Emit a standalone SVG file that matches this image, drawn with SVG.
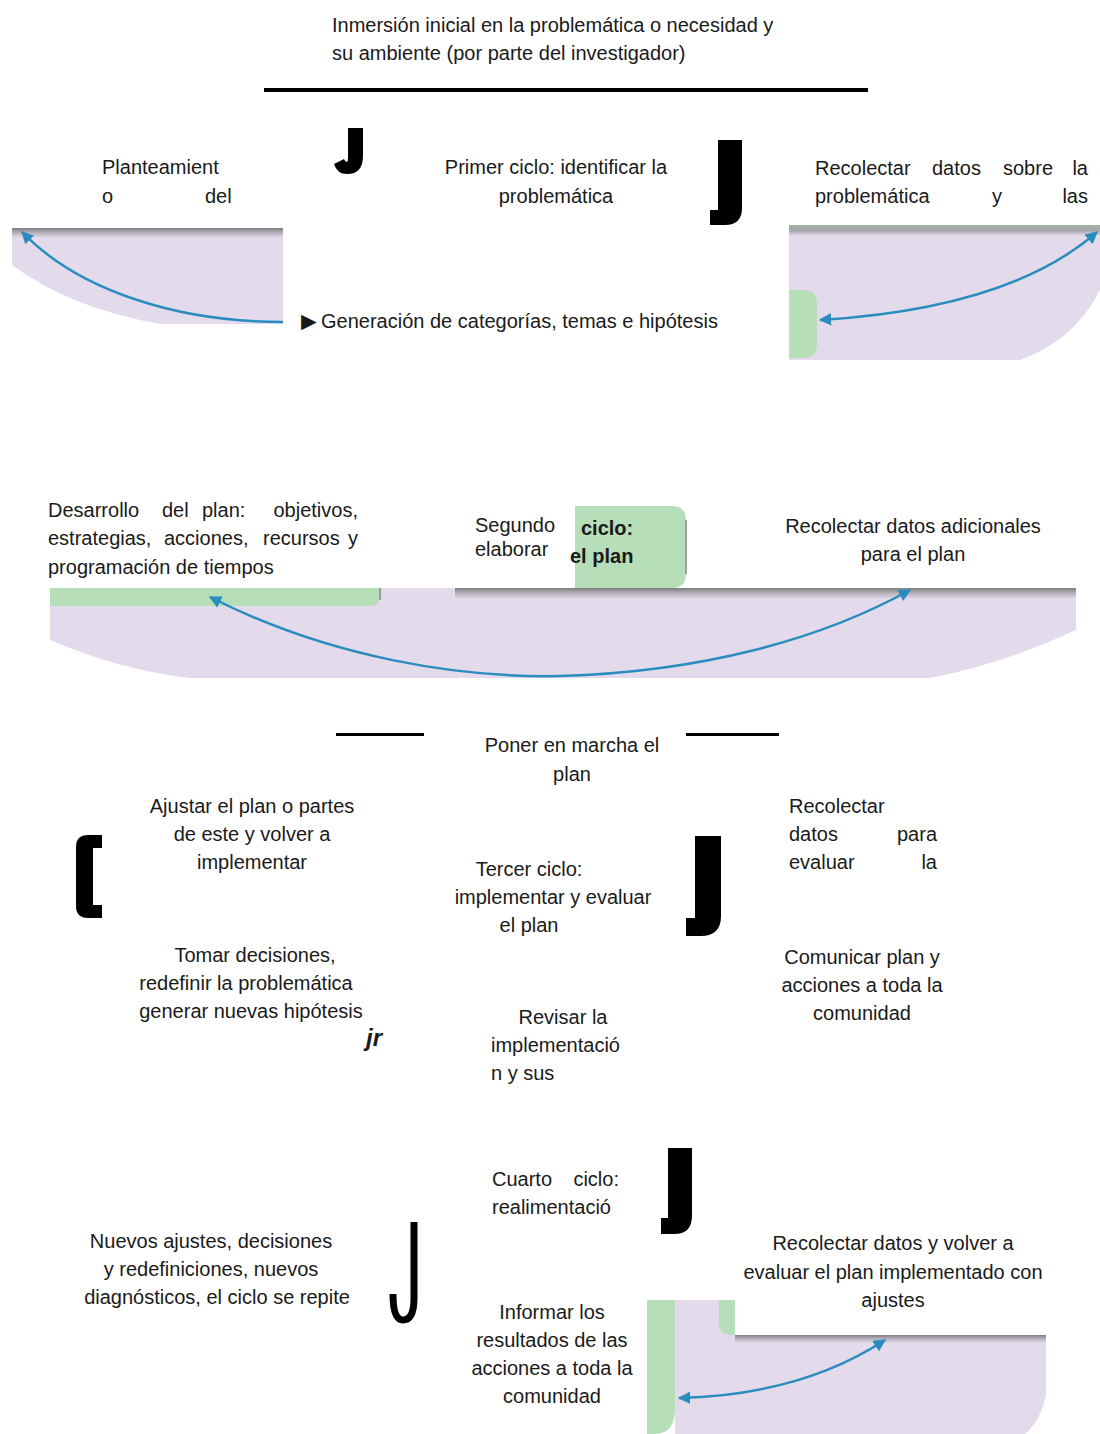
<svg xmlns="http://www.w3.org/2000/svg" width="1100" height="1434" viewBox="0 0 1100 1434">
<defs>
<style>
text{font-family:"Liberation Sans",Arial,sans-serif;font-size:20px;fill:#1a1a1a}
.c{text-anchor:middle}
.e{text-anchor:end}
.b{font-weight:bold}
.lav{fill:#e3dbec}
.grn{fill:#b6dfb9}
.arc{fill:none;stroke:#2b8cbf;stroke-width:2.5}
.br{fill:#000}
</style>
<linearGradient id="shTop" x1="0" y1="0" x2="0" y2="1">
<stop offset="0" stop-color="#7d7d80"/>
<stop offset="0.5" stop-color="#b9b3be"/>
<stop offset="1" stop-color="#e3dbec"/>
</linearGradient>
<linearGradient id="shTopG" x1="0" y1="0" x2="0" y2="1">
<stop offset="0" stop-color="#9fb79f"/>
<stop offset="0.5" stop-color="#a8a5ad"/>
<stop offset="1" stop-color="#e3dbec"/>
</linearGradient>
<marker id="ah" viewBox="0 0 10 10" refX="9" refY="5" markerWidth="5" markerHeight="5" orient="auto-start-reverse" markerUnits="strokeWidth">
<path d="M0,0 L10,5 L0,10 Z" fill="#2b8cbf"/>
</marker>
</defs>

<g id="title">
<text x="332" y="32">Inmersión inicial en la problemática o necesidad y</text>
<text x="332" y="60">su ambiente (por parte del investigador)</text>
<rect x="264" y="88" width="604" height="4" fill="#000"/>
</g>

<g id="panels">
<g id="panel1">
<rect class="lav" x="12" y="228" width="271" height="96"/>
<rect x="12" y="228" width="271" height="10" fill="url(#shTop)"/>
<path d="M12,265 Q70,308 160,324 L12,324 Z" fill="#fff"/>
</g>
<g id="panel2">
<rect class="lav" x="789" y="225" width="311" height="135"/>
<rect x="789" y="225" width="311" height="11" fill="url(#shTopG)"/>
<path d="M789,290 H803 Q817,290 817,304 V344 Q817,358 803,358 H789 Z" class="grn"/>
<path d="M1100,290 Q1075,340 1020,360 L1100,360 Z" fill="#fff"/>
</g>
<g id="panel3">
<rect class="lav" x="50" y="588" width="1026" height="90"/>
<rect x="455" y="588" width="621" height="11" fill="url(#shTop)"/>
<path d="M50,588 H380 V596 Q380,606 370,606 H50 Z" class="grn"/>
<path d="M380,588 V600" stroke="#9a9a9a" stroke-width="2"/>
<path d="M50,640 Q120,670 190,678 L50,678 Z" fill="#fff"/>
<path d="M1076,630 Q1000,665 930,678 L1076,678 Z" fill="#fff"/>
</g>
<g id="panel4">
<rect class="lav" x="675" y="1300" width="371" height="134"/>
<rect x="735" y="1335" width="311" height="8" fill="url(#shTop)"/>
<rect x="735" y="1300" width="311" height="35" fill="#fff"/>
<path d="M719,1300 H735 V1335 H731 Q719,1335 719,1323 Z" class="grn"/>
<path d="M647,1300 H675 V1408 Q675,1434 655,1434 H647 Z" class="grn"/>
<path d="M1046,1395 Q1040,1422 1025,1434 L1046,1434 Z" fill="#fff"/>
</g>
</g>

<g id="connectors">
<path class="arc" d="M283,322 C180,322 80,292 22,232" marker-end="url(#ah)"/>
<path class="arc" d="M820,320 C950,312 1040,282 1097,232" marker-start="url(#ah)" marker-end="url(#ah)"/>
<path class="arc" d="M210,597 C330,658 460,678 560,676 C700,672 820,640 910,590" marker-start="url(#ah)" marker-end="url(#ah)"/>
<path class="arc" d="M679,1398 C760,1396 830,1376 885,1340" marker-start="url(#ah)" marker-end="url(#ah)"/>
<rect x="336" y="733" width="88" height="3" fill="#000"/>
<rect x="686" y="733" width="93" height="3" fill="#000"/>
</g>

<g id="brackets">
<path class="br" d="M348,128 H363 V156 Q363,174 347,174 Q337,174 334,164 L344,159 Q345,162 347,162 Q348,162 348,157 Z"/>
<path class="br" d="M718,140 H742 V208 Q742,225 725,225 H710 V210 H718 Z"/>
<path class="br" d="M88,835 H102 V848 H93 V905 H102 V918 H88 Q76,918 76,906 V847 Q76,835 88,835 Z"/>
<path class="br" d="M695,836 H721 V916 Q721,936 701,936 H686 V918 H695 Z"/>
<path class="br" d="M668,1148 H692 V1216 Q692,1234 674,1234 H661 V1218 H668 Z"/>
<path d="M414,1222 V1298 Q414,1320 403,1320 Q393,1320 393,1294" fill="none" stroke="#000" stroke-width="7"/>
<text x="366" y="1046" style="font-style:italic;font-weight:bold;font-size:24px">jr</text>
</g>

<g id="n-planteamiento">
<text x="102" y="174">Planteamient</text>
<text x="102" y="203">o</text>
<text x="205" y="203">del</text>
</g>
<g id="n-primer">
<text class="c" x="556" y="174">Primer ciclo: identificar la</text>
<text class="c" x="556" y="203">problemática</text>
</g>
<g id="n-recolectar1">
<text x="815" y="175">Recolectar</text>
<text x="932" y="175">datos</text>
<text x="1003" y="175">sobre</text>
<text class="e" x="1088" y="175">la</text>
<text x="815" y="203">problemática</text>
<text x="992" y="203">y</text>
<text class="e" x="1088" y="203">las</text>
</g>
<g id="n-generacion">
<text x="296" y="330" style="font-size:26px">►</text>
<text x="321" y="328">Generación de categorías, temas e hipótesis</text>
</g>

<g id="n-desarrollo">
<text x="48" y="517">Desarrollo</text>
<text x="162" y="517">del</text>
<text x="202" y="517">plan:</text>
<text class="e" x="358" y="517">objetivos,</text>
<text x="48" y="545">estrategias,</text>
<text x="164" y="545">acciones,</text>
<text x="263" y="545">recursos</text>
<text class="e" x="358" y="545">y</text>
<text x="48" y="574">programación de tiempos</text>
</g>
<g id="n-segundo">
<path d="M575,506 H672 Q686,506 686,520 V574 Q686,588 672,588 H575 Z" class="grn"/>
<path d="M686,520 V574" stroke="#9aa39a" stroke-width="2"/>
<text x="475" y="532">Segundo</text>
<text x="475" y="556">elaborar</text>
<text class="b" x="581" y="535">ciclo:</text>
<text class="b" x="570" y="563">el plan</text>
</g>
<g id="n-recolectar2">
<text class="c" x="913" y="533">Recolectar datos adicionales</text>
<text class="c" x="913" y="561">para el plan</text>
</g>

<g id="n-poner">
<text class="c" x="572" y="752">Poner en marcha el</text>
<text class="c" x="572" y="781">plan</text>
</g>
<g id="n-ajustar">
<text class="c" x="252" y="813">Ajustar el plan o partes</text>
<text class="c" x="252" y="841">de este y volver a</text>
<text class="c" x="252" y="869">implementar</text>
</g>
<g id="n-tercer">
<text class="c" x="529" y="876">Tercer ciclo:</text>
<text class="c" x="553" y="904">implementar y evaluar</text>
<text class="c" x="529" y="932">el plan</text>
</g>
<g id="n-recolectar3">
<text x="789" y="813">Recolectar</text>
<text x="789" y="841">datos</text>
<text class="e" x="937" y="841">para</text>
<text x="789" y="869">evaluar</text>
<text class="e" x="937" y="869">la</text>
</g>
<g id="n-tomar">
<text class="c" x="255" y="962">Tomar decisiones,</text>
<text class="c" x="246" y="990">redefinir la problemática</text>
<text class="c" x="251" y="1018">generar nuevas hipótesis</text>
</g>
<g id="n-comunicar">
<text class="c" x="862" y="964">Comunicar plan y</text>
<text class="c" x="862" y="992">acciones a toda la</text>
<text class="c" x="862" y="1020">comunidad</text>
</g>
<g id="n-revisar">
<text class="c" x="563" y="1024">Revisar la</text>
<text x="491" y="1052">implementació</text>
<text x="491" y="1080">n y sus</text>
</g>

<g id="n-cuarto">
<text x="492" y="1186">Cuarto</text>
<text class="e" x="619" y="1186">ciclo:</text>
<text x="492" y="1214">realimentació</text>
</g>
<g id="n-nuevos">
<text class="c" x="211" y="1248">Nuevos ajustes, decisiones</text>
<text class="c" x="211" y="1276">y redefiniciones, nuevos</text>
<text class="c" x="217" y="1304">diagnósticos, el ciclo se repite</text>
</g>
<g id="n-recolectar4">
<text class="c" x="893" y="1250">Recolectar datos y volver a</text>
<text class="c" x="893" y="1279">evaluar el plan implementado con</text>
<text class="c" x="893" y="1307">ajustes</text>
</g>
<g id="n-informar">
<text class="c" x="552" y="1319">Informar los</text>
<text class="c" x="552" y="1347">resultados de las</text>
<text class="c" x="552" y="1375">acciones a toda la</text>
<text class="c" x="552" y="1403">comunidad</text>
</g>
</svg>
